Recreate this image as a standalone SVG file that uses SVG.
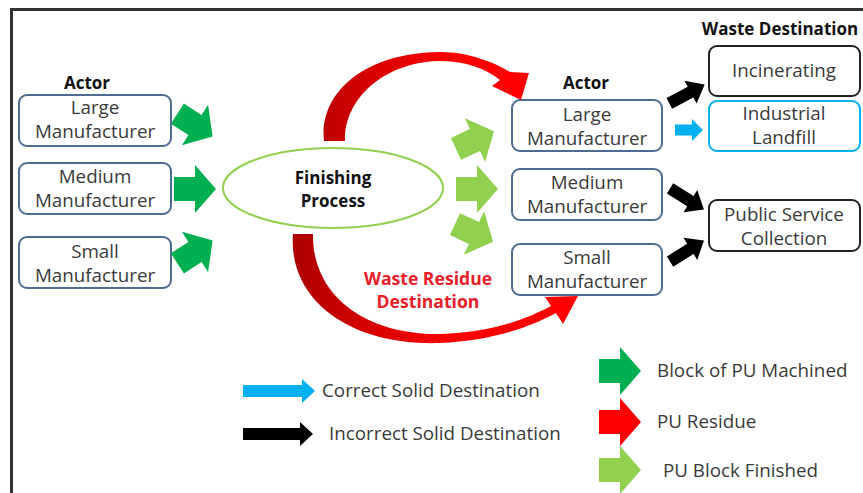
<svg xmlns="http://www.w3.org/2000/svg" width="863" height="493" viewBox="0 0 863 493">
<style>
.t{font-family:"Open Sans","Liberation Sans",sans-serif;font-size:18.8px;fill:#3a3a3a;text-anchor:middle}
.tl{font-family:"Open Sans","Liberation Sans",sans-serif;font-size:18.8px;fill:#3a3a3a}
.b{font-family:"Open Sans","Liberation Sans",sans-serif;font-size:17px;font-weight:bold;fill:#111;text-anchor:middle}
.r{font-family:"Open Sans","Liberation Sans",sans-serif;font-size:17.6px;font-weight:bold;fill:#e8202a;text-anchor:middle}
.actor{fill:#fff;stroke:#4d6b93;stroke-width:2}
.dest{fill:#fff;stroke:#222;stroke-width:2}
.destb{fill:#fff;stroke:#00b0f0;stroke-width:2}
.dg{fill:#00b050}.lg{fill:#92d050}.bk{fill:#000}.bl{fill:#00b0f0}
</style>
<defs>
<path id="big" d="M-21,-12 H0 V-24 L21,0 L0,24 V12 H-21 Z"/>
<path id="blk" d="M-20,-6 H4 V-13 L20,0 L4,13 V6 H-20 Z"/>
<path id="blu" d="M-14,-5.5 H3 V-11 L14,0 L3,11 V5.5 H-14 Z"/>
<linearGradient id="rg" gradientUnits="userSpaceOnUse" x1="300" y1="0" x2="460" y2="0">
<stop offset="0" stop-color="#b00000"/><stop offset="0.45" stop-color="#d80000"/><stop offset="1" stop-color="#ff0000"/>
</linearGradient>
</defs>
<rect x="11.5" y="9.5" width="870" height="500" fill="none" stroke="#333" stroke-width="3"/>

<text class="b" x="87" y="89">Actor</text>
<text class="b" x="586" y="89">Actor</text>
<text class="b" x="780" y="35">Waste Destination</text>

<g id="l-large"><rect class="actor" x="19" y="95" width="152" height="51" rx="8"/><text class="t" x="95" y="114">Large</text><text class="t" x="95" y="138">Manufacturer</text></g>
<g id="l-medium"><rect class="actor" x="19" y="163" width="152" height="51" rx="8"/><text class="t" x="95" y="183">Medium</text><text class="t" x="95" y="207">Manufacturer</text></g>
<g id="l-small"><rect class="actor" x="19" y="237" width="152" height="51" rx="8"/><text class="t" x="95" y="258">Small</text><text class="t" x="95" y="282">Manufacturer</text></g>

<g id="finishing"><ellipse cx="333" cy="188" rx="110" ry="40" fill="#fff" stroke="#92d050" stroke-width="2"/><text class="b" x="333" y="184">Finishing</text><text class="b" x="333" y="207">Process</text></g>

<g id="r-large"><rect class="actor" x="512" y="100" width="150" height="51" rx="8"/><text class="t" x="587" y="121">Large</text><text class="t" x="587" y="145">Manufacturer</text></g>
<g id="r-medium"><rect class="actor" x="512" y="169" width="150" height="51" rx="8"/><text class="t" x="587" y="189">Medium</text><text class="t" x="587" y="213">Manufacturer</text></g>
<g id="r-small"><rect class="actor" x="512" y="244" width="150" height="51" rx="8"/><text class="t" x="587" y="264">Small</text><text class="t" x="587" y="288">Manufacturer</text></g>

<g id="incinerating"><rect class="dest" x="709" y="46" width="151" height="50" rx="8"/><text class="t" x="784" y="77">Incinerating</text></g>
<g id="landfill"><rect class="destb" x="709" y="101" width="151" height="50" rx="8"/><text class="t" x="784" y="120">Industrial</text><text class="t" x="784" y="144">Landfill</text></g>
<g id="public"><rect class="dest" x="709" y="200" width="151" height="51" rx="8"/><text class="t" x="784" y="221">Public Service</text><text class="t" x="784" y="245">Collection</text></g>

<g id="connectors">
<use href="#big" class="dg" transform="translate(195,125) rotate(33)"/>
<use href="#big" class="dg" transform="translate(195,189)"/>
<use href="#big" class="dg" transform="translate(195,252) rotate(-33)"/>
<use href="#big" class="lg" transform="translate(475,140) rotate(-25)"/>
<use href="#big" class="lg" transform="translate(477,189)"/>
<use href="#big" class="lg" transform="translate(474,233) rotate(25)"/>
<use href="#blk" class="bk" transform="translate(687,94) rotate(-28)"/>
<use href="#blu" class="bl" transform="translate(689,130)"/>
<use href="#blk" class="bk" transform="translate(687,199) rotate(32)"/>
<use href="#blk" class="bk" transform="translate(687,251) rotate(-32)"/>
<path fill="url(#rg)" d="M324,141 C319,95 361,53 440,52 C470,52 495,63 510,72 L529,73 L521,100 L492,86 L500,80 C485,68 465,61 438,61 C382,63 344,100 345,141 Z"/>
<path fill="url(#rg)" d="M293,234 C288,300 350,346 440,343 C490,341 528,328 556,313 L563,324 L578,296 L545,297 L551,306 C525,320 488,333 440,334 C365,335 312,295 313,234 Z"/>
</g>
<text class="r" x="428" y="285">Waste Residue</text>
<text class="r" x="428" y="308">Destination</text>

<g id="legend">
<path class="bl" d="M243,385 H302 V379 L315,391 L302,403 V397 H243 Z"/>
<text class="tl" x="322" y="397">Correct Solid Destination</text>
<path class="bk" d="M243,428 H300 V422 L313,434 L300,446 V440 H243 Z"/>
<text class="tl" x="329" y="440">Incorrect Solid Destination</text>
<use href="#big" class="dg" transform="translate(620,371)"/>
<text class="tl" x="657" y="377">Block of PU Machined</text>
<use href="#big" fill="#ff0000" transform="translate(620,422)"/>
<text class="tl" x="657" y="428">PU Residue</text>
<use href="#big" class="lg" transform="translate(620,470)"/>
<text class="tl" x="663" y="477">PU Block Finished</text>
</g>
</svg>
